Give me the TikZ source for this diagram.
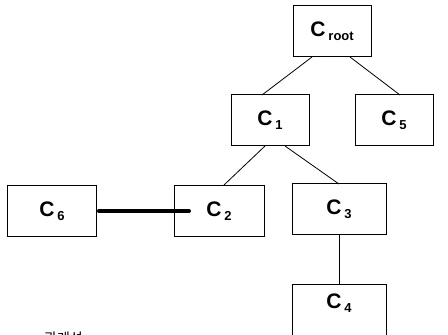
\documentclass[tikz,border=0pt]{standalone}
\usepackage{fontspec}
\setmainfont{Liberation Sans}
\newfontfamily\kofont{Noto Sans CJK KR}
\newcommand{\Cl}[1]{{\fontsize{21}{21}\selectfont\bfseries C}\kern3pt\raisebox{-4pt}{\fontsize{13}{13}\selectfont\bfseries #1}}
\begin{document}
\begin{tikzpicture}[x=1pt,y=-1pt,
  cbox/.style={draw,line width=0.9pt,minimum width=78pt,minimum height=51pt,inner sep=0pt},
  tree/.style={line width=0.8pt}]
\useasboundingbox (0,0) rectangle (448,335);
\begin{scope}
\clip (0,0) rectangle (448,335);
\node[cbox] (root) at (332,31) {\Cl{root}};
\node[cbox] (c1) at (270,120) {\Cl{1}};
\node[cbox] (c5) at (394,120) {\Cl{5}};
\node[cbox,minimum width=89pt] (c6) at (52,211) {\Cl{6}};
\node[cbox,minimum width=90pt] (c2) at (219,211) {\Cl{2}};
\node[cbox,minimum width=94pt] (c3) at (339,209) {\Cl{3}};
\node[cbox,minimum width=94pt,minimum height=60pt] (c4) at (339,314) {};
\node (c4t) at (339,303) {\Cl{4}};
\coordinate (rl) at (312,57);
\coordinate (rr) at (350,57);
\coordinate (c1l) at (262,95);
\coordinate (c5t) at (400,95);
\coordinate (c1bl) at (265,146);
\coordinate (c1br) at (285,146);
\coordinate (c2t) at (224,185);
\coordinate (c3t) at (339,184);
\draw[tree] (rl) -- (c1l);
\draw[tree] (rr) -- (c5t);
\draw[tree] (c1bl) -- (c2t);
\draw[tree] (c1br) -- (c3t);
\draw[tree] (c3.south) -- (c4.north);
\coordinate (barend) at (189,211);
\draw[line width=4pt,line cap=round] (c6.east) ++(2,0) coordinate (barstart) (barstart) -- (barend);
\node[anchor=base west,inner sep=0pt] (kt) at (44,343) {\kofont\fontsize{14}{14}\selectfont 관계성};
\end{scope}
\end{tikzpicture}
\end{document}
